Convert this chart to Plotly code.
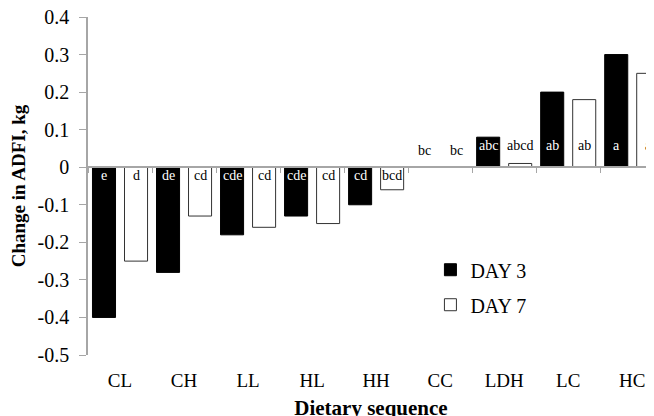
import plotly.graph_objects as go

categories = ["CL", "CH", "LL", "HL", "HH", "CC", "LDH", "LC", "HC"]
day3 = [-0.40, -0.28, -0.18, -0.13, -0.10, 0.0, 0.08, 0.20, 0.30]
day7 = [-0.25, -0.13, -0.16, -0.15, -0.06, 0.0, 0.01, 0.18, 0.25]
letters3 = ["e", "de", "cde", "cde", "cd", "bc", "abc", "ab", "a"]
letters7 = ["d", "cd", "cd", "cd", "bcd", "bc", "abcd", "ab", "a"]
ytick_vals = [0.4, 0.3, 0.2, 0.1, 0.0, -0.1, -0.2, -0.3, -0.4, -0.5]
ytick_text = ["0.4", "0.3", "0.2", "0.1", "0", "-0.1", "-0.2", "-0.3", "-0.4", "-0.5"]

SERIF = "Liberation Serif"
AXIS_GRAY = "#a6a6a6"

fig = go.Figure()
fig.add_trace(go.Bar(name="DAY 3", x=categories, y=day3, marker=dict(color="black", line=dict(color="black", width=1)), legendgroup="d3"))
fig.add_trace(go.Bar(name="DAY 7", x=categories, y=day7, marker=dict(color="white", line=dict(color="#333333", width=1)), legendgroup="d7"))
# invisible helper trace for the zero-line axis with category ticks
fig.add_trace(go.Scatter(x=categories, y=[0] * len(categories), xaxis="x2", mode="markers",
                         marker=dict(opacity=0), showlegend=False, hoverinfo="skip"))

def label_y(v):
    if v < 0:
        return -0.023
    if v == 0:
        return 0.045
    return 0.057

annotations = []
for cat, v3, v7, l3, l7 in zip(categories, day3, day7, letters3, letters7):
    annotations.append(dict(x=cat, y=label_y(v3), text=l3, xshift=-16, showarrow=False,
                            font=dict(family=SERIF, size=14, color="white" if v3 != 0 else "black")))
    annotations.append(dict(x=cat, y=label_y(v7), text=l7, xshift=16, showarrow=False,
                            font=dict(family=SERIF, size=14, color="black")))

zero_pos = (0 - (-0.5)) / (0.4 - (-0.5))

fig.update_layout(
    width=654, height=416,
    margin=dict(l=80, r=8, t=9, b=69, autoexpand=False),
    paper_bgcolor="white", plot_bgcolor="white",
    barmode="group", bargap=0, bargroupgap=0.28,
    font=dict(family=SERIF, color="black", size=18),
    annotations=annotations,
    showlegend=True,
    legend=dict(x=0.605, y=0.31, xanchor="left", yanchor="top", tracegroupgap=6,
                font=dict(family=SERIF, size=20, color="black"), bgcolor="rgba(0,0,0,0)"),
    xaxis=dict(type="category", categoryorder="array", categoryarray=categories,
               range=[-0.5, 8.34], showline=False, ticks="", showgrid=False, zeroline=False,
               automargin=False,
               tickfont=dict(family=SERIF, size=19), ticklabelstandoff=12,
               title=dict(text="<b>Dietary sequence</b>", font=dict(family=SERIF, size=21), standoff=10)),
    xaxis2=dict(type="category", categoryorder="array", categoryarray=categories,
                matches="x", overlaying="x", anchor="free", position=zero_pos, side="bottom",
                showline=True, linecolor=AXIS_GRAY, linewidth=1.5, ticks="outside", tickson="boundaries",
                ticklen=5, tickcolor=AXIS_GRAY, showticklabels=False, showgrid=False, zeroline=False,
                automargin=False),
    yaxis=dict(range=[-0.5, 0.4], tickvals=ytick_vals, ticktext=ytick_text,
               showline=True, linecolor=AXIS_GRAY, linewidth=1.5, ticks="outside", ticklen=7,
               tickcolor=AXIS_GRAY, showgrid=False, zeroline=False, automargin=False,
               ticklabeloverflow="allow",
               tickfont=dict(family=SERIF, size=20), ticklabelstandoff=6,
               title=dict(text="<b>Change in ADFI, kg</b>", font=dict(family=SERIF, size=19), standoff=8)),
)

fig.write_html("out.html")
